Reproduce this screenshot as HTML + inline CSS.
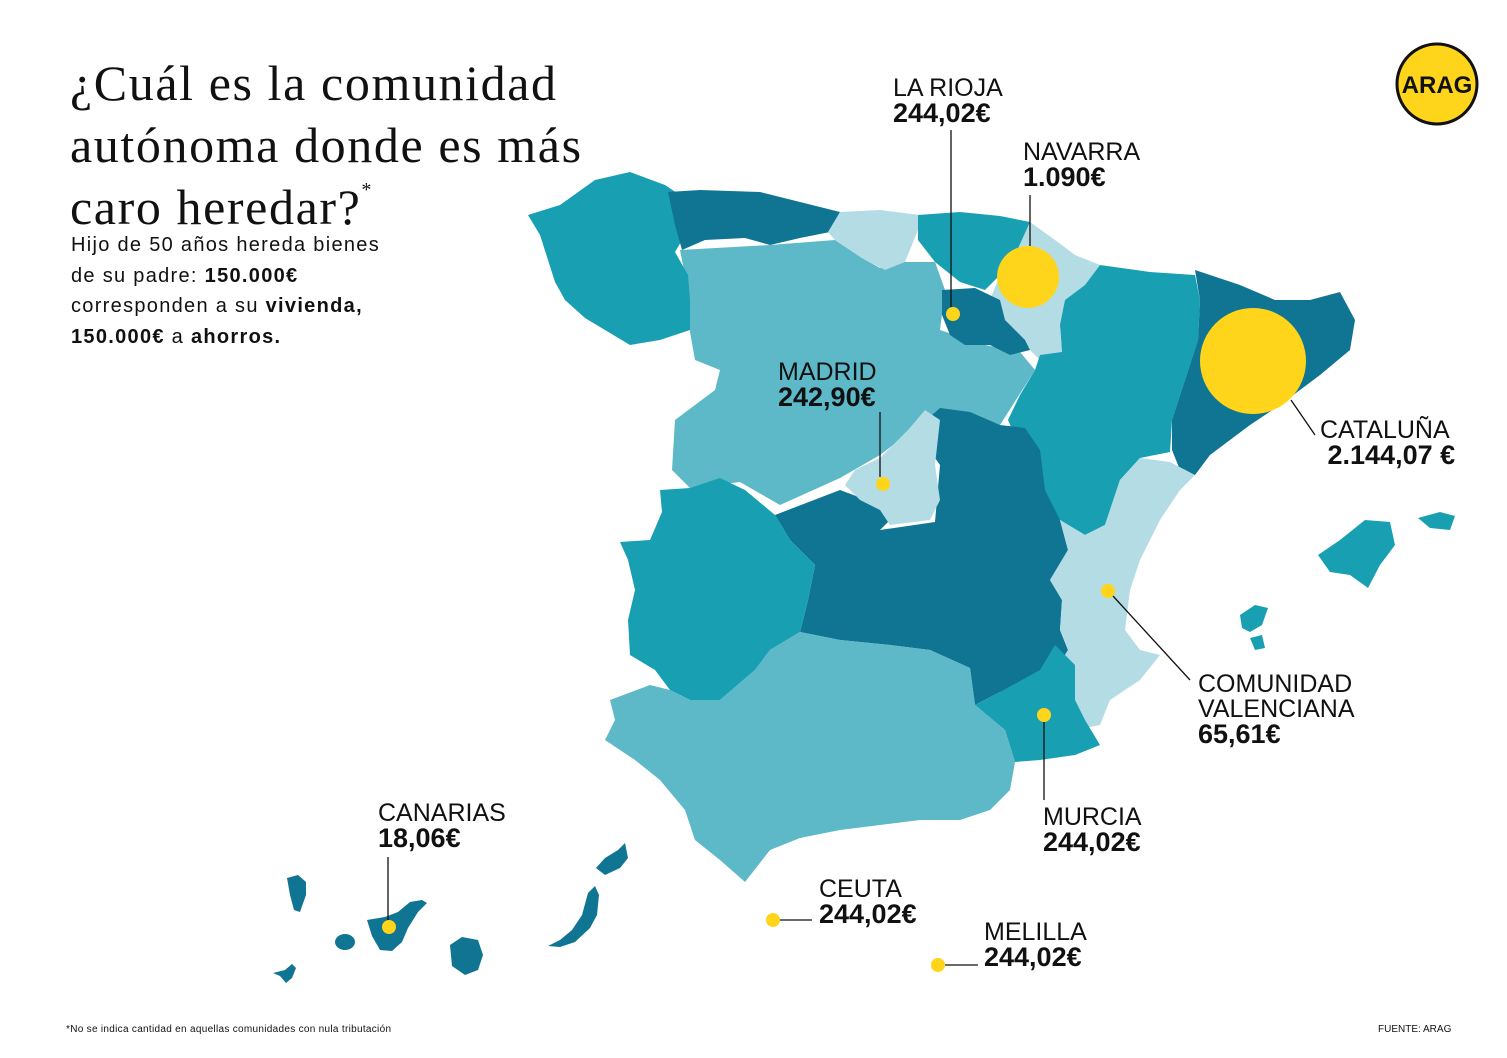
<!DOCTYPE html>
<html><head><meta charset="utf-8"><style>
html,body{margin:0;padding:0;background:#fff;}
body{width:1507px;height:1058px;position:relative;overflow:hidden;font-family:"Liberation Sans",sans-serif;}
</style></head><body>
<svg width="1507" height="1058" viewBox="0 0 1507 1058" xmlns="http://www.w3.org/2000/svg" style="position:absolute;left:0;top:0">
<g stroke="none">
<path fill="#5db8c8" d="M680,250 L770,245 L835,240 L862,258 L880,268 L900,262 L935,262 L945,290 L940,330 L985,345 L1020,352 L1035,370 L1000,425 L940,420 L910,432 L880,455 L840,478 L780,505 L740,482 L690,488 L672,470 L675,420 L715,390 L720,370 L695,360 L690,332 L690,300 L685,275 Z"/>
<path fill="#199fb2" d="M528,215 L560,205 L595,180 L630,172 L665,185 L680,195 L688,230 L675,252 L688,275 L690,300 L690,330 L660,340 L630,345 L605,330 L585,318 L565,300 L555,282 L548,260 L540,235 Z"/>
<path fill="#0f7593" d="M668,192 L700,190 L760,192 L800,202 L840,212 L830,232 L800,238 L770,245 L745,238 L705,240 L682,250 L675,225 Z"/>
<path fill="#b3dce4" d="M840,212 L880,210 L920,215 L918,230 L905,262 L885,270 L862,258 L835,240 L828,232 Z"/>
<path fill="#199fb2" d="M918,215 L960,212 L1000,216 L1030,222 L1025,245 L1005,270 L985,290 L960,282 L935,262 L918,240 Z"/>
<path fill="#b3dce4" d="M1030,222 L1055,240 L1075,255 L1100,265 L1085,285 L1065,300 L1060,330 L1062,352 L1040,360 L1025,345 L1005,320 L990,300 L1000,275 L1015,255 Z"/>
<path fill="#0f7593" d="M942,290 L975,288 L1000,300 L1005,320 L1025,340 L1030,350 L1010,355 L990,345 L965,345 L950,335 L942,315 Z"/>
<path fill="#199fb2" d="M1100,265 L1150,272 L1195,275 L1200,300 L1198,340 L1185,380 L1172,420 L1170,452 L1140,458 L1120,480 L1105,525 L1085,535 L1060,520 L1040,490 L1030,470 L1008,420 L1020,395 L1035,370 L1040,355 L1062,352 L1060,325 L1065,300 L1085,285 Z"/>
<path fill="#0f7593" d="M1195,270 L1240,285 L1275,300 L1310,300 L1340,292 L1355,320 L1350,350 L1320,375 L1280,405 L1250,425 L1210,455 L1195,475 L1180,470 L1172,450 L1172,420 L1185,380 L1198,340 L1200,300 Z"/>
<path fill="#0f7593" d="M775,515 L840,490 L880,505 L890,520 L880,530 L935,522 L940,465 L915,430 L940,408 L970,412 L1000,425 L1025,428 L1040,450 L1045,490 L1060,520 L1068,550 L1050,580 L1062,600 L1060,630 L1068,650 L1050,680 L1000,692 L975,705 L970,668 L930,650 L890,645 L840,640 L800,632 L808,600 L815,565 L790,540 Z"/>
<path fill="#b3dce4" d="M908,430 L925,410 L940,420 L935,465 L940,500 L930,520 L890,525 L880,510 L860,500 L845,485 L855,470 L880,458 Z"/>
<path fill="#199fb2" d="M620,542 L650,540 L662,512 L660,490 L690,488 L720,478 L745,490 L775,515 L790,540 L815,565 L808,600 L800,632 L770,650 L755,670 L720,700 L690,700 L670,690 L655,670 L630,655 L628,620 L635,590 L628,560 Z"/>
<path fill="#b3dce4" d="M1060,520 L1085,535 L1105,525 L1120,480 L1140,458 L1170,462 L1195,475 L1180,490 L1160,520 L1140,560 L1130,590 L1125,630 L1140,650 L1160,655 L1140,680 L1110,700 L1100,725 L1075,730 L1070,700 L1055,672 L1068,650 L1060,630 L1062,600 L1050,580 L1068,550 Z"/>
<path fill="#199fb2" d="M975,705 L1000,692 L1040,670 L1055,645 L1075,665 L1075,700 L1085,720 L1100,745 L1075,755 L1040,760 L1015,762 L1005,730 Z"/>
<path fill="#5db8c8" d="M610,700 L650,685 L670,690 L690,700 L720,700 L755,670 L770,650 L800,632 L840,640 L890,645 L930,650 L970,668 L975,705 L1005,730 L1015,762 L1010,790 L990,810 L960,820 L920,820 L880,825 L840,830 L800,838 L770,850 L745,882 L720,860 L695,840 L685,810 L660,780 L635,760 L605,740 L615,720 Z"/>
<path fill="#199fb2" d="M1318,555 L1340,540 L1365,520 L1390,522 L1395,545 L1380,565 L1368,588 L1350,575 L1330,572 Z"/>
<path fill="#199fb2" d="M1418,518 L1440,512 L1455,516 L1450,530 L1430,528 Z"/>
<path fill="#199fb2" d="M1240,615 L1255,605 L1268,608 L1262,625 L1250,632 L1242,628 Z"/>
<path fill="#199fb2" d="M1250,638 L1262,635 L1265,648 L1255,650 Z"/>
<g fill="#0f7593">
<path d="M287,878 L298,875 L306,882 L306,895 L300,912 L294,910 L290,895 Z"/>
<path d="M367,920 L385,917 L398,912 L410,902 L422,900 L427,903 L418,912 L408,928 L402,942 L392,951 L380,950 L372,936 Z"/>
<ellipse cx="345" cy="942" rx="10" ry="8"/>
<path d="M273,973 L285,970 L292,964 L296,968 L292,978 L286,983 L280,976 Z"/>
<path d="M450,945 L462,937 L478,940 L483,955 L478,970 L465,975 L452,966 Z"/>
<path d="M548,946 L560,940 L572,930 L582,915 L588,893 L595,886 L599,895 L597,915 L590,928 L575,942 L560,947 Z"/>
<path d="M596,868 L605,858 L618,850 L625,843 L628,858 L620,868 L605,875 Z"/>
</g>
</g>
<g fill="#ffd51c">
<circle cx="1028" cy="277" r="31"/>
<circle cx="1253" cy="361" r="53"/>
<circle cx="953" cy="314" r="7"/>
<circle cx="883" cy="484" r="7"/>
<circle cx="1108" cy="591" r="7"/>
<circle cx="1044" cy="715" r="7"/>
<circle cx="389" cy="927" r="7"/>
<circle cx="773" cy="920" r="7"/>
<circle cx="938" cy="965" r="7"/>
</g>
<g stroke="#111" stroke-width="1.3" fill="none">
<line x1="951" y1="130" x2="951" y2="307"/>
<line x1="1030" y1="195" x2="1030" y2="246"/>
<line x1="880" y1="412" x2="880" y2="477"/>
<polyline points="1291,400 1315,435"/>
<polyline points="1113,596 1190,680"/>
<line x1="1044" y1="722" x2="1044" y2="800"/>
<line x1="388" y1="857" x2="388" y2="920"/>
<line x1="780" y1="920" x2="812" y2="920"/>
<line x1="945" y1="965" x2="978" y2="965"/>
</g>
<circle cx="1437" cy="84" r="40" fill="#ffd51c" stroke="#111" stroke-width="3"/>
<text x="1437" y="93" text-anchor="middle" font-family="Liberation Sans" font-weight="bold" font-size="24" fill="#111">ARAG</text>
</svg>
<div style="position:absolute;left:70px;top:52px;font-family:'Liberation Serif',serif;font-size:50px;letter-spacing:1.6px;line-height:62px;color:#111;">¿Cuál es la comunidad<br>autónoma donde es más<br>caro heredar?<sup style="font-size:20px;vertical-align:top;line-height:20px;position:relative;top:4px">*</sup></div>
<div style="position:absolute;left:71px;top:230px;font-size:20px;letter-spacing:1.3px;line-height:30.5px;color:#111;">Hijo de 50 años hereda bienes<br>de su padre: <b>150.000€</b><br>corresponden a su <b>vivienda,</b><br><b>150.000€</b> a <b>ahorros.</b></div>
<div style="position:absolute;font-size:25px;line-height:25px;color:#111;">
<div style="position:absolute;left:893px;top:76px;width:260px">LA RIOJA<br><b style="font-size:27px">244,02€</b></div>
<div style="position:absolute;left:1023px;top:140px;width:260px">NAVARRA<br><b style="font-size:27px">1.090€</b></div>
<div style="position:absolute;left:778px;top:360px;width:260px">MADRID<br><b style="font-size:27px">242,90€</b></div>
<div style="position:absolute;left:1320px;top:418px;width:260px">CATALUÑA<br><b style="font-size:27px">&nbsp;2.144,07 €</b></div>
<div style="position:absolute;left:1198px;top:672px;width:300px">COMUNIDAD<br>VALENCIANA<br><b style="font-size:27px">65,61€</b></div>
<div style="position:absolute;left:1043px;top:805px;width:260px">MURCIA<br><b style="font-size:27px">244,02€</b></div>
<div style="position:absolute;left:378px;top:801px;width:260px">CANARIAS<br><b style="font-size:27px">18,06€</b></div>
<div style="position:absolute;left:819px;top:877px;width:260px">CEUTA<br><b style="font-size:27px">244,02€</b></div>
<div style="position:absolute;left:984px;top:920px;width:260px">MELILLA<br><b style="font-size:27px">244,02€</b></div>
</div>
<div style="position:absolute;left:66px;top:1024px;font-size:10px;letter-spacing:0.3px;color:#111;">*No se indica cantidad en aquellas comunidades con nula tributación</div>
<div style="position:absolute;left:1378px;top:1024px;font-size:10px;color:#111;">FUENTE: ARAG</div>
</body></html>
